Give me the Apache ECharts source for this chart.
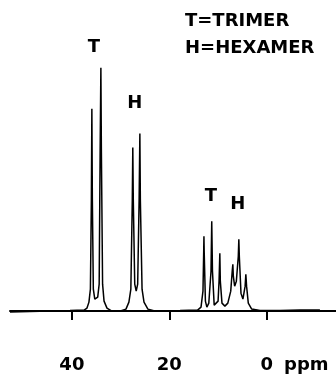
<!DOCTYPE html>
<html>
<head>
<meta charset="utf-8">
<script src="https://cdn.jsdelivr.net/npm/echarts@6/dist/echarts.min.js"></script>
<style>html,body{margin:0;padding:0;background:#fff}#c{width:336px;height:374px}</style>
</head>
<body>
<div id="c"></div>
<script>
// Spectrum trace: chemical shift (ppm) and intensity above baseline
const shiftPpm = [52.7,48.6,44.5,40.4,37.5,36.9,36.5,36.2,36.0,35.9,35.8,35.6,35.3,35.1,34.7,34.4,34.2,34.05,33.95,33.7,33.4,32.8,31.8,30.2,28.9,28.3,27.9,27.6,27.5,27.4,27.1,26.8,26.5,26.2,26.05,25.95,25.6,25.2,24.4,23.0,17.8,14.2,13.5,13.1,12.95,12.9,12.85,12.6,12.3,11.9,11.45,11.3,11.15,10.8,10.4,10.0,9.8,9.64,9.54,9.2,8.6,8.0,7.4,7.1,6.97,6.87,6.6,6.25,5.85,5.74,5.64,5.3,4.9,4.45,4.3,4.15,3.8,3.1,1.4,-2.7,-6.8,-10.9];
const intensity = [-1,-0.5,0,0.5,1,3,9,22,112,203,112,22,12,10,14,27,162,244,162,27,10,3,0,0,2,9,22,112,164,112,27,20,27,112,178,112,22,9,2,0,0.5,1,4,20,60,75,60,10,4,8,40,90,40,6,4,10,30,58,30,8,5,8,20,40,47,35,25,30,55,72,55,18,12,25,37,25,8,2,0.5,0.5,1,1];

// Peak annotations
const peakLabels = ['T','H','T','H'];
const peakLabelPpm = [35.5,27.1,11.5,5.95];
const peakLabelY = [265,208,115,107];

// Axis ticks
const tickValues = [40,20,0];
const legendLines = ['T=TRIMER','H=HEXAMER'];

const trace = shiftPpm.map((x,i)=>[x,intensity[i]]);
const labelData = peakLabels.map((t,i)=>({value:[peakLabelPpm[i],peakLabelY[i]],name:t}));

const chart = echarts.init(document.getElementById('c'), null, {renderer:'canvas'});
const boldFont = 'DejaVu Sans';
chart.setOption({
  animation:false,
  backgroundColor:'#fff',
  grid:{left:10,right:0,top:0,bottom:31},
  xAxis:{
    type:'value', inverse:true, min:-14.2, max:52.7,
    splitLine:{show:false},
    axisLine:{show:true,lineStyle:{color:'#000',width:2}},
    axisTick:{show:true,customValues:tickValues,length:9,lineStyle:{color:'#000',width:2}},
    axisLabel:{show:true,customValues:tickValues,color:'#000',fontSize:18,fontWeight:'bold',fontFamily:boldFont,margin:14}
  },
  yAxis:{type:'value',min:-31,max:312,show:false},
  series:[
    {type:'line',data:trace,showSymbol:false,symbol:'none',lineStyle:{color:'#000',width:1.5},silent:true},
    {type:'scatter',data:labelData,symbolSize:0,silent:true,itemStyle:{opacity:1,color:'#000'},
     label:{show:true,position:'inside',formatter:p=>p.name,color:'#000',opacity:1,fontSize:18,fontWeight:'bold',fontFamily:boldFont}}
  ],
  graphic:[
    {type:'text',left:185,top:12,style:{text:legendLines[0],fill:'#000',font:'bold 18px "DejaVu Sans"'}},
    {type:'text',left:185,top:39,style:{text:legendLines[1],fill:'#000',font:'bold 18px "DejaVu Sans"'}},
    {type:'text',left:284,top:356,style:{text:'ppm',fill:'#000',font:'bold 18px "DejaVu Sans"'}}
  ]
});
</script>
</body>
</html>
